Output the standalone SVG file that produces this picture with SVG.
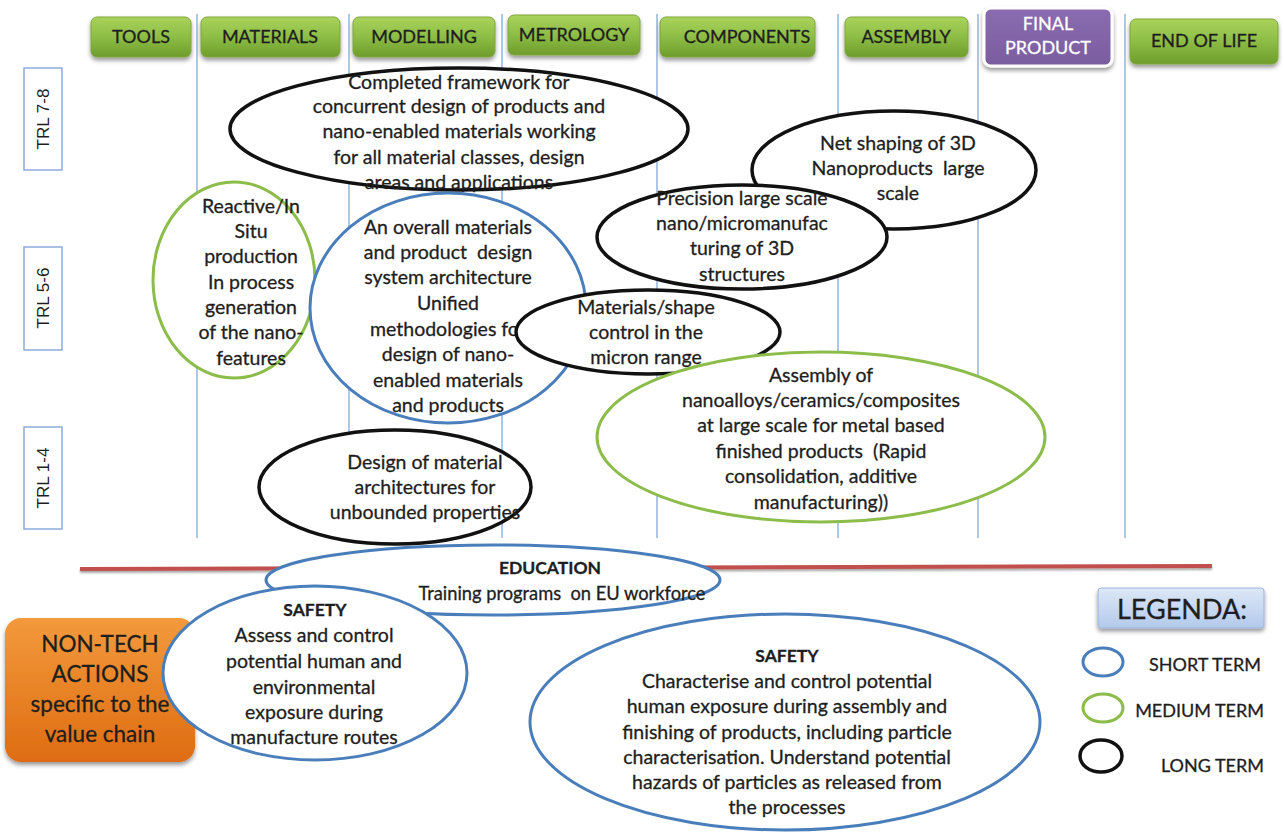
<svg xmlns="http://www.w3.org/2000/svg" width="1284" height="839" viewBox="0 0 1284 839">
  <defs>
    <linearGradient id="gGreen" x1="0" y1="0" x2="0" y2="1">
      <stop offset="0" stop-color="#a9d35c"/>
      <stop offset="0.5" stop-color="#8dbd45"/>
      <stop offset="1" stop-color="#6f9c2c"/>
    </linearGradient>
    <linearGradient id="gPurple" x1="0" y1="0" x2="0" y2="1">
      <stop offset="0" stop-color="#8a6cb0"/>
      <stop offset="1" stop-color="#7a5c9f"/>
    </linearGradient>
    <linearGradient id="gOrange" x1="0" y1="0" x2="0" y2="1">
      <stop offset="0" stop-color="#f39a3c"/>
      <stop offset="1" stop-color="#de6c12"/>
    </linearGradient>
    <linearGradient id="gLegend" x1="0" y1="0" x2="0" y2="1">
      <stop offset="0" stop-color="#dde8f7"/>
      <stop offset="1" stop-color="#b3c9ea"/>
    </linearGradient>
    <filter id="shadow" x="-10%" y="-20%" width="120%" height="160%">
      <feDropShadow dx="0" dy="3" stdDeviation="2" flood-color="#000" flood-opacity="0.4"/>
    </filter>
    <filter id="lineShadow" x="-5%" y="-200%" width="110%" height="500%">
      <feDropShadow dx="0" dy="2" stdDeviation="1.2" flood-color="#000" flood-opacity="0.35"/>
    </filter>
  </defs>
  <style>
    text { font-family: Lato, "Liberation Sans", sans-serif; fill: #1e1e1e; stroke: #1e1e1e; stroke-width: 0.3; }
    .hdr { font-size: 18px; text-anchor: middle; }
    .btn { fill: url(#gGreen); stroke: #7ea53d; stroke-width: 1; filter: url(#shadow); }
    .col { stroke: #94b3e0; stroke-width: 1.5; }
    .trl { fill: #fff; stroke: #8faadc; stroke-width: 1.5; }
    .trlt { font-family: "Liberation Sans", Arial, sans-serif; font-size: 17px; text-anchor: middle; stroke-width: 0; }
    .lt { fill: #fff; stroke: #111; stroke-width: 3.5; }
    .st { fill: #fff; stroke: #4a7ebb; stroke-width: 3; }
    .mt { fill: #fff; stroke: #8cbc4a; stroke-width: 3; }
    .t { font-size: 19.5px; text-anchor: middle; }
    .pre { white-space: pre; }
    .b { font-weight: bold; font-size: 17.5px; }
    .leg { font-size: 18px; text-anchor: end; }
    .nt { font-size: 22.5px; text-anchor: middle; }
    .wt { fill: #fff; stroke: #fff; }
  </style>

  <!-- value-chain column separators -->
  <g id="columns">
    <line class="col" x1="197" y1="14" x2="197" y2="538"/>
    <line class="col" x1="349" y1="14" x2="349" y2="538"/>
    <line class="col" x1="502" y1="14" x2="502" y2="538"/>
    <line class="col" x1="657" y1="14" x2="657" y2="538"/>
    <line class="col" x1="838" y1="14" x2="838" y2="538"/>
    <line class="col" x1="978" y1="14" x2="978" y2="538"/>
    <line class="col" x1="1125" y1="14" x2="1125" y2="538"/>
  </g>

  <!-- header buttons -->
  <g id="hdr-tools"><rect class="btn" x="91" y="17" width="100" height="40" rx="6"/><text class="hdr" x="141" y="43">TOOLS</text></g>
  <g id="hdr-materials"><rect class="btn" x="201" y="17" width="139" height="40" rx="6"/><text class="hdr" x="270" y="43">MATERIALS</text></g>
  <g id="hdr-modelling"><rect class="btn" x="353" y="17" width="142" height="40" rx="6"/><text class="hdr" x="424" y="43">MODELLING</text></g>
  <g id="hdr-metrology"><rect class="btn" x="508" y="15" width="132" height="40" rx="6"/><text class="hdr" x="574" y="41">METROLOGY</text></g>
  <g id="hdr-components"><rect class="btn" x="660" y="17" width="155" height="40" rx="6"/><text class="hdr" x="747" y="43">COMPONENTS</text></g>
  <g id="hdr-assembly"><rect class="btn" x="845" y="17" width="123" height="40" rx="6"/><text class="hdr" x="906" y="43">ASSEMBLY</text></g>
  <g id="hdr-final"><rect x="984" y="8" width="128" height="58" rx="7" fill="url(#gPurple)" stroke="#fff" stroke-width="3" filter="url(#shadow)"/><text class="hdr wt" x="1048" y="30">FINAL</text><text class="hdr wt" x="1048" y="54">PRODUCT</text></g>
  <g id="hdr-endoflife"><rect class="btn" x="1130" y="19" width="148" height="45" rx="6"/><text class="hdr" x="1204" y="47">END OF LIFE</text></g>

  <!-- TRL level labels -->
  <g id="trl-78"><rect class="trl" x="24" y="68" width="38" height="102"/><text class="trlt" transform="translate(49 119) rotate(-90)">TRL 7-8</text></g>
  <g id="trl-56"><rect class="trl" x="24" y="247" width="38" height="103"/><text class="trlt" transform="translate(49 298) rotate(-90)">TRL 5-6</text></g>
  <g id="trl-14"><rect class="trl" x="24" y="427" width="38" height="102"/><text class="trlt" transform="translate(49 478) rotate(-90)">TRL 1-4</text></g>

  <!-- separator between technical and non-technical actions -->
  <line id="separator" x1="80" y1="569" x2="1212" y2="566" stroke="#c0504d" stroke-width="4" filter="url(#lineShadow)"/>

  <g id="n-framework">
    <ellipse class="lt" cx="459" cy="129" rx="229" ry="61"/>
    <text class="t" x="459" y="89">Completed framework for</text>
    <text class="t" x="459" y="113">concurrent design of products and</text>
    <text class="t" x="459" y="138">nano-enabled materials working</text>
    <text class="t" x="459" y="164">for all material classes, design</text>
    <text class="t" x="459" y="189">areas and applications</text>
  </g>

  <g id="n-netshaping">
    <ellipse class="lt" cx="894" cy="170" rx="142" ry="59"/>
    <text class="t" x="898" y="150">Net shaping of 3D</text>
    <text class="t pre" x="898" y="175">Nanoproducts  large</text>
    <text class="t" x="898" y="200">scale</text>
  </g>

  <g id="n-precision">
    <ellipse class="lt" cx="742" cy="237" rx="145" ry="52"/>
    <text class="t" x="742" y="205">Precision large scale</text>
    <text class="t" x="742" y="230">nano/micromanufac</text>
    <text class="t" x="742" y="255">turing of 3D</text>
    <text class="t" x="742" y="281">structures</text>
  </g>

  <g id="n-reactive">
    <ellipse class="mt" cx="234" cy="280" rx="81" ry="98"/>
    <text class="t" x="251" y="213">Reactive/In</text>
    <text class="t" x="251" y="238">Situ</text>
    <text class="t" x="251" y="263">production</text>
    <text class="t" x="251" y="289">In process</text>
    <text class="t" x="251" y="314">generation</text>
    <text class="t" x="251" y="339">of the nano-</text>
    <text class="t" x="251" y="365">features</text>
  </g>

  <g id="n-overall">
    <ellipse class="st" cx="448" cy="308" rx="138" ry="115"/>
    <text class="t" x="448" y="234">An overall materials</text>
    <text class="t pre" x="448" y="259">and product  design</text>
    <text class="t" x="448" y="284">system architecture</text>
    <text class="t" x="448" y="310">Unified</text>
    <text class="t" x="448" y="336">methodologies for</text>
    <text class="t" x="448" y="361">design of nano-</text>
    <text class="t" x="448" y="387">enabled materials</text>
    <text class="t" x="448" y="412">and products</text>
  </g>

  <g id="n-shape">
    <ellipse class="lt" cx="648" cy="332" rx="132" ry="42"/>
    <text class="t" x="646" y="314">Materials/shape</text>
    <text class="t" x="646" y="339">control in the</text>
    <text class="t" x="646" y="364">micron range</text>
  </g>

  <g id="n-assembly">
    <ellipse class="mt" cx="821" cy="437" rx="224" ry="85"/>
    <text class="t" x="821" y="382">Assembly of</text>
    <text class="t" x="821" y="407">nanoalloys/ceramics/composites</text>
    <text class="t" x="821" y="432">at large scale for metal based</text>
    <text class="t pre" x="821" y="458">finished products  (Rapid</text>
    <text class="t" x="821" y="483">consolidation, additive</text>
    <text class="t" x="821" y="509">manufacturing))</text>
  </g>

  <g id="n-design">
    <ellipse class="lt" cx="395" cy="487" rx="136" ry="57"/>
    <text class="t" x="425" y="469">Design of material</text>
    <text class="t" x="425" y="494">architectures for</text>
    <text class="t" x="425" y="519">unbounded properties</text>
  </g>

  <g id="n-nontech">
    <rect x="5" y="618" width="190" height="144" rx="16" fill="url(#gOrange)" filter="url(#shadow)"/>
    <text class="nt" x="100" y="652">NON-TECH</text>
    <text class="nt" x="100" y="682">ACTIONS</text>
    <text class="nt" x="100" y="712">specific to the</text>
    <text class="nt" x="100" y="742">value chain</text>
  </g>

  <g id="n-education">
    <ellipse class="st" cx="493" cy="580" rx="227" ry="35"/>
    <text class="t b" x="550" y="574">EDUCATION</text>
    <text class="t pre" x="562" y="600" style="font-size:18.3px">Training programs  on EU workforce</text>
  </g>

  <g id="n-safety1">
    <ellipse class="st" cx="315" cy="673" rx="152" ry="87"/>
    <text class="t b" x="315" y="616">SAFETY</text>
    <text class="t" x="314" y="642">Assess and control</text>
    <text class="t" x="314" y="668">potential human and</text>
    <text class="t" x="314" y="694">environmental</text>
    <text class="t" x="314" y="719">exposure during</text>
    <text class="t" x="314" y="744">manufacture routes</text>
  </g>

  <g id="n-safety2">
    <ellipse class="st" cx="785" cy="722" rx="255" ry="108"/>
    <text class="t b" x="787" y="662">SAFETY</text>
    <text class="t" x="787" y="688">Characterise and control potential</text>
    <text class="t" x="787" y="713">human exposure during assembly and</text>
    <text class="t" x="787" y="739">finishing of products, including particle</text>
    <text class="t" x="787" y="764">characterisation. Understand potential</text>
    <text class="t" x="787" y="789">hazards of particles as released from</text>
    <text class="t" x="787" y="814">the processes</text>
  </g>

  <!-- legend -->
  <g id="legend">
    <rect x="1098" y="588" width="166" height="40" rx="3" fill="url(#gLegend)" stroke="#9db4dc" stroke-width="1" filter="url(#shadow)"/>
    <text x="1182" y="619" style="font-size:27px;text-anchor:middle">LEGENDA:</text>
    <ellipse cx="1103" cy="662" rx="20" ry="14" fill="none" stroke="#4a7ebb" stroke-width="3"/>
    <text class="leg" x="1261" y="671">SHORT TERM</text>
    <ellipse cx="1103" cy="708" rx="20" ry="14" fill="none" stroke="#8cbc4a" stroke-width="3"/>
    <text class="leg" x="1264" y="717">MEDIUM TERM</text>
    <ellipse cx="1101" cy="756" rx="21" ry="16" fill="none" stroke="#111" stroke-width="3.5"/>
    <text class="leg" x="1264" y="772">LONG TERM</text>
  </g>
</svg>
